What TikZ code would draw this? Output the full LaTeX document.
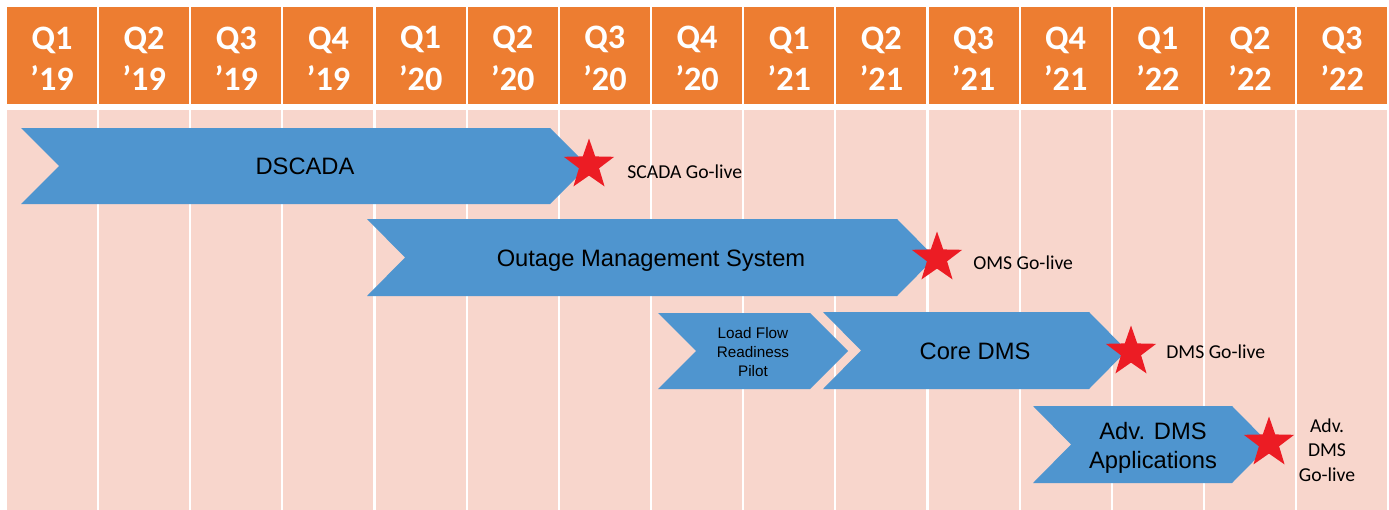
\documentclass[tikz,border=0pt]{standalone}
\usepackage{fontspec}
\setmainfont{Carlito}
\newfontfamily\arialfont{Liberation Sans}
\usepackage{tikz}
\definecolor{rmorange}{HTML}{ED7D31}
\definecolor{rmpink}{HTML}{F8D6CC}
\definecolor{rmblue}{HTML}{4F95CF}
\definecolor{rmred}{HTML}{EC1C24}
\usetikzlibrary{shapes.geometric, positioning, calc}

% blue phase arrow: start x, tip x, top y, bottom y
\newcommand{\phasebar}[4]{%
  \fill[rmblue] (#1,#3) -- ({#2-38},#3) -- (#2,{(#3+#4)/2}) -- ({#2-38},#4)
    -- (#1,#4) -- ({#1+38},{(#3+#4)/2}) -- cycle;}

\tikzset{
  qcell/.style={text=white, align=center, inner sep=0,
    font={\fontsize{19.5}{23.5}\selectfont\bfseries}},
  phasetext/.style={align=center, inner sep=0, font={\arialfont\fontsize{13.5}{16.5}\selectfont}},
  golive/.style={star, star points=5, star point ratio=2.5, fill=rmred,
    minimum size=1.06cm, inner sep=0},
  milestone/.style={inner sep=0, align=center, font={\fontsize{11.2}{14}\selectfont}}
}

\begin{document}
\begin{tikzpicture}[x=0.02cm, y=-0.02cm]
\useasboundingbox (0,0) rectangle (1389,510);
\fill[white] (0,0) rectangle (1389,510);

% quarter header and pink lanes
\foreach \q/\yr [count=\i from 0] in {1/19,2/19,3/19,4/19,1/20,2/20,3/20,4/20,1/21,2/21,3/21,4/21,1/22,2/22,3/22}{
  \fill[rmorange] ({7+92.15*\i},7) rectangle ({97+92.15*\i},104);
  \node[qcell] (q\i) at ({52+92.15*\i},58.5) {Q\q\\’\yr};
  \fill[rmpink] ({7+92.15*\i},110) rectangle ({97+92.15*\i},510);
}

% phases
\phasebar{21}{588}{128}{204}
\node[phasetext] (dscada) at (305,166) {DSCADA};

\phasebar{367}{935}{219}{296}
\node[phasetext] (oms) at (651,261) {Outage Management System};

\phasebar{658}{848}{313}{389}
\node[phasetext, font={\arialfont\fontsize{8.7}{10.8}\selectfont}] (loadflow) at (753,352) {Load Flow\\Readiness\\Pilot};

\phasebar{823}{1127}{312}{389}
\node[phasetext] (coredms) at (975,351) {Core DMS};

\phasebar{1033}{1270}{406}{483}
\node[phasetext] (advdms) at (1153,448) {Adv. DMS\\Applications};

% go-live milestones
\node[golive] (s1) at (589,165) {};
\node[milestone, anchor=west] (scada) at (627,172) {SCADA Go-live};

\node[golive] (s2) at (937,258) {};
\node[milestone, anchor=west] (omsgo) at (973,263) {OMS Go-live};

\node[golive] (s3) at (1131,352) {};
\node[milestone, anchor=west] (dmsgo) at (1166,352) {DMS Go-live};

\node[golive] (s4) at (1269,443) {};
\node[milestone] (advgo) at (1327,450) {Adv.\\DMS\\Go-live};
\end{tikzpicture}
\end{document}
